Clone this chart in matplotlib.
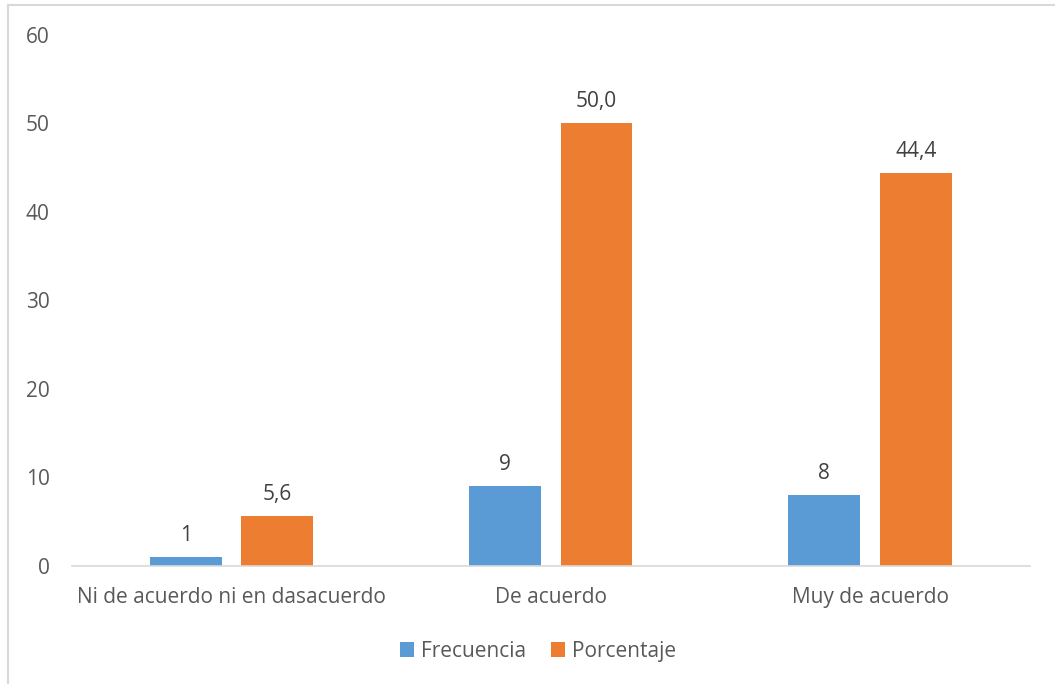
import matplotlib.pyplot as plt
import numpy as np
from matplotlib.lines import Line2D

categories = ["Ni de acuerdo ni en dasacuerdo", "De acuerdo", "Muy de acuerdo"]
frecuencia = [1, 9, 8]
porcentaje = [5.6, 50.0, 44.4]
yticks = [0, 10, 20, 30, 40, 50, 60]

BLUE = "#5B9BD5"
ORANGE = "#ED7D31"
TEXT = "#595959"
GRID = "#D9D9D9"
FS = 15

plt.rcParams['font.family'] = ['Open Sans', 'DejaVu Sans']

fig = plt.figure(figsize=(10.55, 6.84), dpi=100)
fig.set_facecolor("w")
ax = fig.add_axes([0.0682, 0.173, 0.9078, 0.776])

x = np.arange(len(categories))
w = 0.225
off = 0.143
b1 = ax.bar(x - off, frecuencia, width=w, color=BLUE, label="Frecuencia")
b2 = ax.bar(x + off, porcentaje, width=w, color=ORANGE, label="Porcentaje")

for rect, v in zip(b1, frecuencia):
    ax.annotate(f"{v}", (rect.get_x() + rect.get_width() / 2, rect.get_height()),
                xytext=(0, 8), textcoords="offset points", ha="center", va="bottom",
                fontsize=FS, color="#404040")
for rect, v in zip(b2, porcentaje):
    ax.annotate(f"{v:.1f}".replace(".", ","), (rect.get_x() + rect.get_width() / 2, rect.get_height()),
                xytext=(0, 8), textcoords="offset points", ha="center", va="bottom",
                fontsize=FS, color="#404040")

ax.set_xlim(-0.5, 2.5)
ax.set_ylim(0, 60)
ax.set_yticks(yticks)
ax.set_xticks(x)
ax.set_xticklabels(categories)
ax.tick_params(axis='both', length=0, labelsize=FS, labelcolor=TEXT)
ax.tick_params(axis='x', pad=15)
ax.tick_params(axis='y', pad=16)
for s in ["top", "right", "left"]:
    ax.spines[s].set_visible(False)
ax.spines["bottom"].set_color(GRID)
ax.spines["bottom"].set_linewidth(1.2)

leg = fig.legend(loc="center", bbox_to_anchor=(0.51, 0.048), ncol=2, frameon=False,
                 fontsize=FS, handlelength=0.7, handleheight=0.7, columnspacing=1.15,
                 handletextpad=0.35)
for t in leg.get_texts():
    t.set_color(TEXT)

# outer chart frame (top and left only visible)
fig.add_artist(Line2D([0.0076, 1.0], [0.9927, 0.9927], color=GRID, lw=1.5, transform=fig.transFigure))
fig.add_artist(Line2D([0.0076, 0.0076], [0.0, 0.9927], color=GRID, lw=1.5, transform=fig.transFigure))

fig.savefig("out.png", dpi=100)
